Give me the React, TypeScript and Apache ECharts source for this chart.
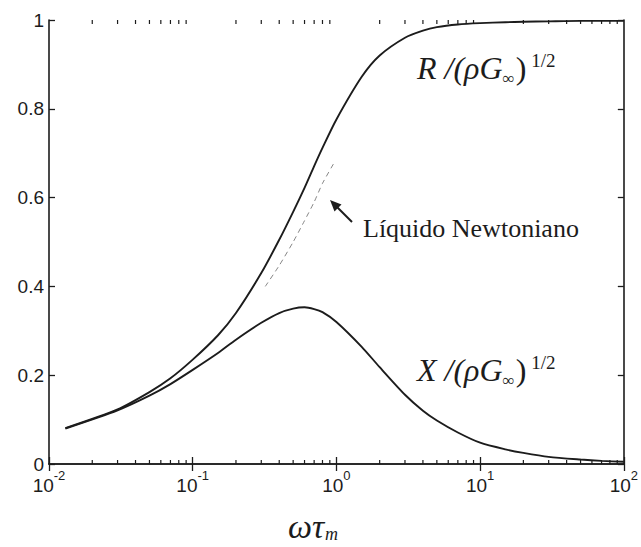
import React, { useEffect, useRef } from "react";
import * as echarts from "echarts";

// ωτm values (log axis) and the curves
const omega = [0.013, 0.03, 0.05, 0.07, 0.1, 0.15, 0.2, 0.3, 0.4, 0.5, 0.6, 0.7, 0.8, 1, 1.5, 2, 3, 4, 5, 7, 10, 15, 20, 30, 50, 70, 100];
const rValues = [0.081, 0.123, 0.162, 0.193, 0.235, 0.29, 0.34, 0.43, 0.505, 0.568, 0.622, 0.671, 0.712, 0.776, 0.872, 0.92, 0.96, 0.976, 0.984, 0.99, 0.993, 0.995, 0.996, 0.997, 0.998, 0.998, 0.998];
const xValues = [0.08, 0.121, 0.154, 0.18, 0.212, 0.25, 0.28, 0.318, 0.34, 0.35, 0.353, 0.349, 0.342, 0.32, 0.264, 0.218, 0.156, 0.12, 0.098, 0.071, 0.048, 0.033, 0.025, 0.016, 0.01, 0.007, 0.005];

const newtonOmega = [0.32, 0.4, 0.5, 0.6, 0.7, 0.8, 0.97];
const newtonValues = [0.4, 0.447, 0.5, 0.548, 0.59, 0.632, 0.68];

const minorMantissas = [2, 3, 4, 5, 6, 7, 8, 9];
const decades = [0.01, 0.1, 1, 10];

const INK = "#1c1c1c";
const SANS = "'Liberation Sans', Arial, sans-serif";
const SERIF = "'Liberation Serif', 'Times New Roman', serif";

function labelRich() {
  return {
    i: { fontSize: 32, fontFamily: SERIF, fontStyle: "italic", fill: INK, lineHeight: 38, verticalAlign: "middle" },
    n: { fontSize: 32, fontFamily: SERIF, fill: INK, lineHeight: 38, verticalAlign: "middle" },
    sub: { fontSize: 17, fontFamily: SERIF, fill: INK, lineHeight: 16, verticalAlign: "bottom", padding: [0, 1, 0, 0] },
    sup: { fontSize: 19, fontFamily: SERIF, fill: INK, lineHeight: 18, verticalAlign: "top", padding: [2, 0, 0, 5] },
  };
}

export default function App() {
  const ref = useRef<HTMLDivElement>(null);

  useEffect(() => {
    const chart = echarts.init(ref.current!, null, { renderer: "svg" });

    const minorTicks: number[][] = [];
    decades.forEach((d) => minorMantissas.forEach((m) => minorTicks.push([m * d, 0])));

    const lineStyleAxis = { color: INK, width: 1.6 };
    const tickStyle = { color: INK, width: 1.3 };

    const option: any = {
      animation: false,
      backgroundColor: "#ffffff",
      grid: { left: 49, right: 16, top: 20, bottom: 83, containLabel: false },
      xAxis: [
        {
          type: "log",
          logBase: 10,
          min: 0.01,
          max: 100,
          position: "bottom",
          axisLine: { show: true, lineStyle: lineStyleAxis },
          axisTick: { show: true, inside: true, length: 7, lineStyle: tickStyle },
          splitLine: { show: false },
          axisLabel: {
            margin: 5,
            formatter: (v: number) => `{b|10}{s|${Math.round(Math.log10(v))}}`,
            rich: {
              b: { fontSize: 19, fontFamily: SANS, color: INK, lineHeight: 26, verticalAlign: "bottom" },
              s: { fontSize: 13, fontFamily: SANS, color: INK, lineHeight: 13, verticalAlign: "top" },
            },
          },
        },
        {
          type: "log",
          logBase: 10,
          min: 0.01,
          max: 100,
          position: "top",
          axisLine: { show: true, lineStyle: lineStyleAxis },
          axisTick: { show: true, inside: true, length: 7, lineStyle: tickStyle },
          splitLine: { show: false },
          axisLabel: { show: false },
        },
      ],
      yAxis: [
        {
          type: "value",
          min: 0,
          max: 1,
          interval: 0.2,
          position: "left",
          axisLine: { show: true, lineStyle: lineStyleAxis },
          axisTick: { show: true, inside: true, length: 6, lineStyle: tickStyle },
          splitLine: { show: false },
          axisLabel: {
            margin: 5,
            fontSize: 19,
            fontFamily: SANS,
            color: INK,
            formatter: (v: number) => (v === 0 ? "0" : v === 1 ? "1" : v.toFixed(1)),
          },
        },
        {
          type: "value",
          min: 0,
          max: 1,
          interval: 0.2,
          position: "right",
          axisLine: { show: true, lineStyle: lineStyleAxis },
          axisTick: { show: true, inside: true, length: 6, lineStyle: tickStyle },
          splitLine: { show: false },
          axisLabel: { show: false },
        },
      ],
      series: [
        {
          name: "R",
          type: "line",
          xAxisIndex: 0,
          yAxisIndex: 0,
          data: omega.map((w, i) => [w, rValues[i]]),
          showSymbol: false,
          symbol: "none",
          smooth: 0.25,
          lineStyle: { color: INK, width: 1.9 },
        },
        {
          name: "X",
          type: "line",
          xAxisIndex: 0,
          yAxisIndex: 0,
          data: omega.map((w, i) => [w, xValues[i]]),
          showSymbol: false,
          symbol: "none",
          smooth: 0.25,
          lineStyle: { color: INK, width: 1.9 },
        },
        {
          name: "Newtoniano",
          type: "line",
          xAxisIndex: 0,
          yAxisIndex: 0,
          data: newtonOmega.map((w, i) => [w, newtonValues[i]]),
          showSymbol: false,
          symbol: "none",
          smooth: 0.2,
          lineStyle: { color: "#777", width: 0.9, type: [5, 4] },
        },
        {
          name: "minorTicks",
          type: "custom",
          xAxisIndex: 0,
          yAxisIndex: 0,
          data: minorTicks,
          encode: { x: 0, y: 1 },
          silent: true,
          clip: false,
          z: 5,
          renderItem: (_params: any, api: any) => {
            const v = api.value(0);
            const pb = api.coord([v, 0]);
            const pt = api.coord([v, 1]);
            const st = { stroke: INK, lineWidth: 1.2 };
            return {
              type: "group",
              children: [
                { type: "line", shape: { x1: pb[0], y1: pb[1], x2: pb[0], y2: pb[1] - 4 }, style: st },
                { type: "line", shape: { x1: pt[0], y1: pt[1], x2: pt[0], y2: pt[1] + 4 }, style: st },
              ],
            };
          },
        },
      ],
      graphic: [
        {
          type: "text",
          x: 417,
          y: 68,
          style: {
            text: "{i|R /(ρG}{sub|∞}{n|)}{sup|1/2}",
            verticalAlign: "middle",
            rich: labelRich(),
          },
        },
        {
          type: "text",
          x: 417,
          y: 370,
          style: {
            text: "{i|X /(ρG}{sub|∞}{n|)}{sup|1/2}",
            verticalAlign: "middle",
            rich: labelRich(),
          },
        },
        {
          type: "text",
          x: 363,
          y: 228,
          style: {
            text: "Líquido Newtoniano",
            font: `26px ${SERIF}`,
            fill: INK,
            verticalAlign: "middle",
          },
        },
        {
          type: "line",
          shape: { x1: 352, y1: 222, x2: 336, y2: 206 },
          style: { stroke: INK, lineWidth: 2 },
        },
        {
          type: "polygon",
          shape: { points: [[330, 200], [341.5, 204.5], [334.5, 211.5]] },
          style: { fill: INK },
        },
        {
          type: "text",
          x: 313,
          y: 526,
          style: {
            text: "{w|ωτ}{m|m}",
            align: "center",
            verticalAlign: "middle",
            rich: {
              w: { fontSize: 34, fontFamily: SERIF, fontStyle: "italic", fill: INK, lineHeight: 34, verticalAlign: "middle" },
              m: { fontSize: 18, fontFamily: SERIF, fontStyle: "italic", fill: INK, lineHeight: 16, verticalAlign: "bottom", padding: [9, 0, 0, 1] },
            },
          },
        },
      ],
    };

    chart.setOption(option);
    return () => chart.dispose();
  }, []);

  return (
    <div
      ref={ref}
      style={{ position: "fixed", left: 0, top: 0, width: 641, height: 547, background: "#fff" }}
    />
  );
}
